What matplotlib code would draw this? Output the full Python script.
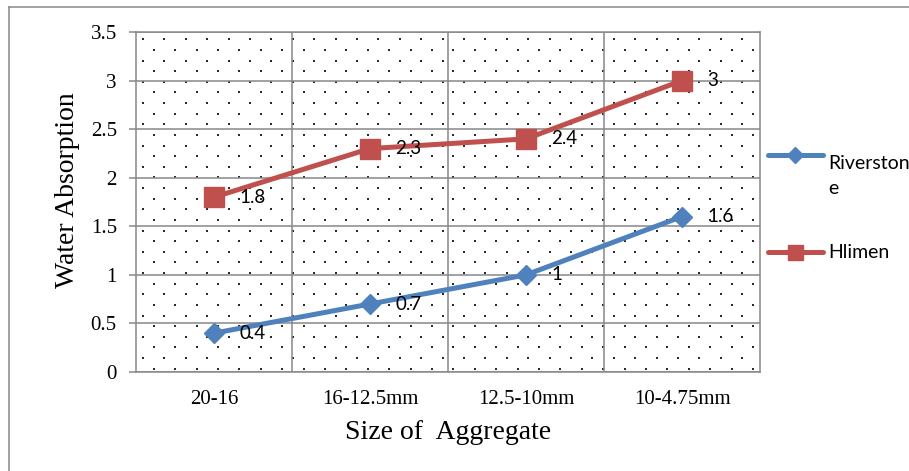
import numpy as np
import matplotlib
matplotlib.use("Agg")
import matplotlib.pyplot as plt
from matplotlib.lines import Line2D
from matplotlib.ticker import FuncFormatter

# chart data
categories = ["20-16", "16-12.5mm", "12.5-10mm", "10-4.75mm"]
riverstone = [0.4, 0.7, 1.0, 1.6]
hlimen = [1.8, 2.3, 2.4, 3.0]
series_names = ["Riverston\ne", "Hlimen"]
y_ticks = [0, 0.5, 1, 1.5, 2, 2.5, 3, 3.5]

blue = "#4F81BD"
red = "#C0504D"
grid_col = "#878787"
serif = "Liberation Serif"
sans = "Lato"

W, H = 909, 471
fig = plt.figure(figsize=(W / 100, H / 100), dpi=100)

# plot area in pixels
L, R, T, B = 136, 760, 32, 372
ax = fig.add_axes([L / W, 1 - B / H, (R - L) / W, (B - T) / H])

# dotted background pattern (like excel's pattern fill)
pw, ph = R - L, B - T
dots_x, dots_y = [], []
for j, py in enumerate(np.arange(T + 7.3, B, 10.625)):
    start = L + 7 + (10.7 if j % 2 else 0)
    for px in np.arange(start, R, 21.4):
        dots_x.append((px - L) / pw)
        dots_y.append((B - py) / ph)
ax.scatter(dots_x, dots_y, s=3.6, c="#2a2a2a", linewidths=0, marker="s",
           transform=ax.transAxes, zorder=0.5, clip_on=True)

x = np.arange(len(categories))
ax.plot(x, hlimen, color=red, lw=3.6, marker="s", ms=14.4,
        mec=red, mfc=red, zorder=3, solid_capstyle="round")
ax.plot(x, riverstone, color=blue, lw=3.6, marker="D", ms=10.6,
        mec=blue, mfc=blue, zorder=3, solid_capstyle="round")

for xi, v in zip(x, hlimen):
    ax.annotate("%g" % v, (xi, v), xytext=(18, 0), textcoords="offset points",
                ha="left", va="center", fontsize=13.5, family=sans, zorder=4)
for xi, v in zip(x, riverstone):
    ax.annotate("%g" % v, (xi, v), xytext=(18, 0), textcoords="offset points",
                ha="left", va="center", fontsize=13.5, family=sans, zorder=4)

ax.set_xlim(-0.5, len(categories) - 0.5)
ax.set_ylim(0, 3.5)
ax.set_yticks(y_ticks)
ax.yaxis.set_major_formatter(FuncFormatter(lambda v, p: "%g" % v))
ax.set_xticks(x)
ax.set_xticklabels(categories)
ax.set_xticks(x[:-1] + 0.5, minor=True)

ax.grid(True, which="major", axis="y", color=grid_col, lw=1.1)
ax.grid(True, which="minor", axis="x", color=grid_col, lw=1.1)
ax.set_axisbelow(True)
for s in ax.spines.values():
    s.set_color(grid_col)
    s.set_linewidth(1.1)

ax.tick_params(axis="y", length=4.8, width=1.1, color=grid_col, pad=9,
               labelsize=15)
ax.tick_params(axis="x", which="both", length=0, pad=13, labelsize=15)
for lab in ax.get_xticklabels() + ax.get_yticklabels():
    lab.set_family(serif)

ax.set_ylabel("Water Absorption", family=serif, fontsize=20)
ax.set_xlabel("Size of  Aggregate", family=serif, fontsize=20)
ax.yaxis.set_label_coords((80 - L) / pw, (B - 190) / ph)
ax.xaxis.set_label_coords(0.5, (B - 420) / ph)

# legend drawn by hand to keep the wrapped label
def fx(px):
    return px / W

def fy(py):
    return 1 - py / H

leg = [(155, blue, "D", 10.6, series_names[0]), (252, red, "s", 14.4, series_names[1])]
for py, col, mk, ms, name in leg:
    fig.add_artist(Line2D([fx(768), fx(823)], [fy(py), fy(py)], color=col, lw=3.6,
                          solid_capstyle="round"))
    fig.add_artist(Line2D([fx(795)], [fy(py)], color=col, marker=mk, ms=ms * 0.75,
                          mec=col, mfc=col))
    fig.text(fx(828), fy(py), name, ha="left", va="top" if "\n" in name else "center",
             fontsize=14, family=sans, linespacing=1.55)

# outer chart border (left and top only visible)
fig.add_artist(Line2D([fx(9), fx(9)], [fy(7), 0], color=grid_col, lw=1.1))
fig.add_artist(Line2D([fx(9), 1], [fy(7), fy(7)], color=grid_col, lw=1.1))

fig.savefig("out.png", dpi=100)
